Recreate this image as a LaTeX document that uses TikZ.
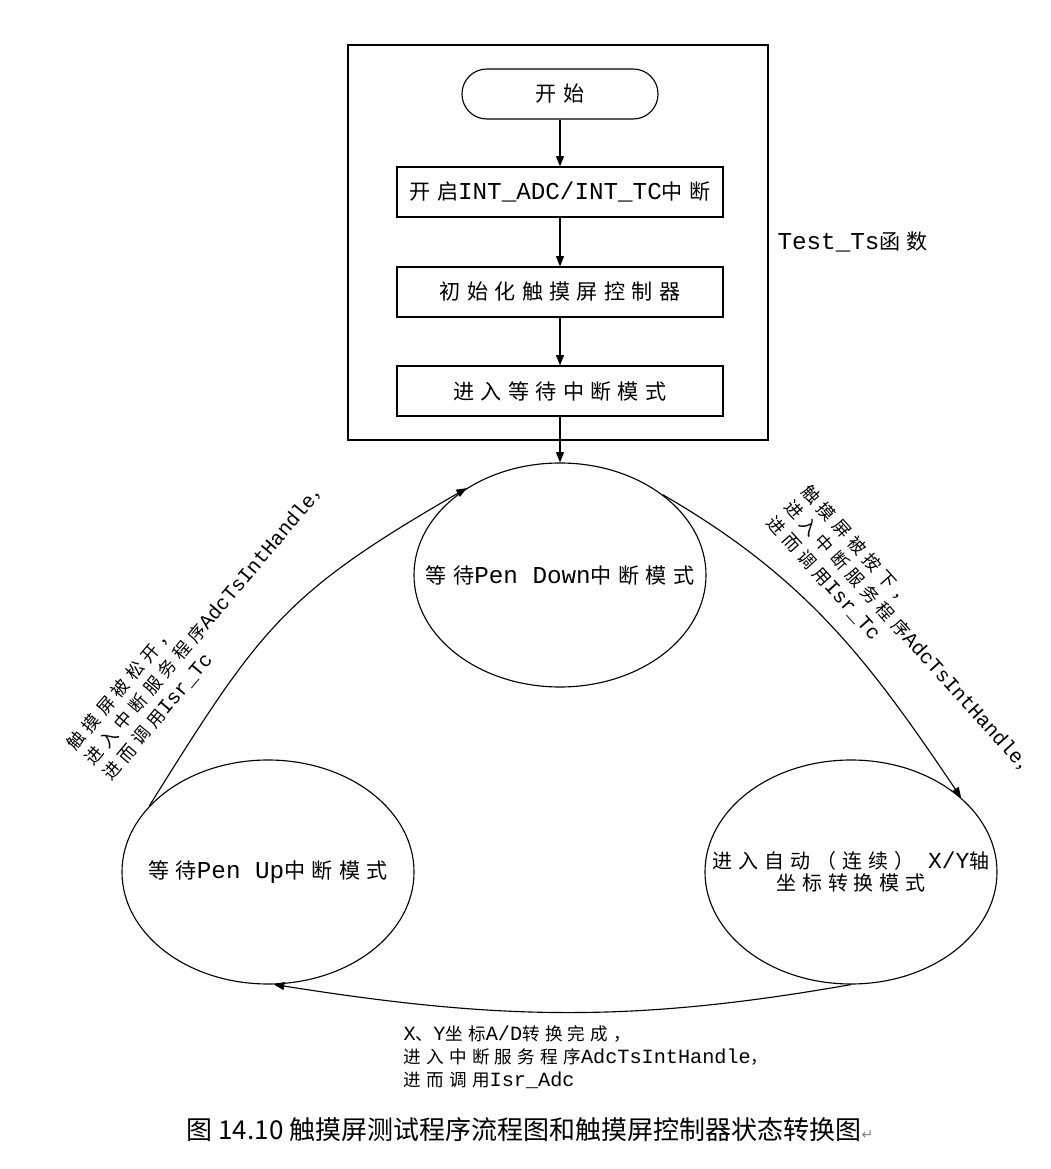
\documentclass[tikz,border=0pt]{standalone}
\usepackage{fontspec}
\setmainfont{Noto Sans CJK SC}
\newfontfamily\cjk[LetterSpace=30]{Noto Sans CJK SC}
\newfontfamily\mono[Scale=1.15]{Liberation Mono}
\newfontfamily\symfont{DejaVu Sans}
\newcommand{\lat}[1]{{\mono #1}}
\usetikzlibrary{positioning,arrows.meta,shapes.geometric}

\begin{document}
\begin{tikzpicture}[>={Triangle[length=2.6mm,width=2mm]},line width=0.8pt,
  proc/.style={draw,minimum width=8.15cm,minimum height=1.25cm,inner sep=0pt,font=\cjk\fontsize{15}{18}\selectfont},
  state/.style={draw,ellipse,minimum width=7.3cm,minimum height=5.6cm,inner sep=0pt},
  statetext/.style={align=center,inner sep=0pt,font=\cjk\fontsize{15}{16}\selectfont},
  note/.style={align=left,inner sep=0pt,font=\cjk\fontsize{12.5}{16.5}\selectfont}]
\useasboundingbox (0,0) rectangle (26.275,29.225);
% Test_Ts function
\node[draw,minimum width=10.5cm,minimum height=9.875cm,inner sep=0pt] (frame) at (13.95,23.1625) {};
\node[proc,rounded corners=0.62cm,minimum width=4.9cm] (start) at (14,26.875) {开始};
\node[proc] (irq) at (14,24.425) {开启\lat{INT\_ADC/INT\_TC}中断};
\node[proc] (init) at (14,21.925) {初始化触摸屏控制器};
\node[proc] (wait) at (14,19.45) {进入等待中断模式};
\node[anchor=west,inner sep=0pt,font=\cjk\fontsize{15}{17}\selectfont] (tsname) at (19.425,23.175) {\lat{Test\_Ts}函数};
\draw[->] (start) -- (irq);
\draw[->] (irq) -- (init);
\draw[->] (init) -- (wait);
% controller states
\node[state] (down) at (14,14.85) {};
\node[state] (up) at (6.7,7.425) {};
\node[state] (conv) at (21.275,7.425) {};
\node[statetext] (downtxt) at (down) {等待\lat{Pen Down}中断模式};
\node[statetext] (uptxt) at (up) {等待\lat{Pen Up}中断模式};
\node[statetext,font=\cjk\fontsize{14.2}{16}\selectfont] (convtxt) at (conv) {进入自动（连续）\lat{ X/Y}轴\\坐标转换模式};
\draw[->] (wait) -- (down);
\draw[->] (up.151) to[out=58,in=210,looseness=1.2] (down.137);
\draw[->] (down.38) to[out=-30,in=124] (conv.34);
\draw[->] (conv.south) to[out=190,in=-9] (up.-87);
\node[note,rotate=50] (relnote) at (5.15,13.65) {触摸屏被松开，\\进入中断服务程序\lat{AdcTsIntHandle}，\\进而调用\lat{Isr\_Tc}};
\node[note,rotate=-48] (pressnote) at (22.75,13.25) {触摸屏被按下，\\进入中断服务程序\lat{AdcTsIntHandle}，\\进而调用\lat{Isr\_Tc}};
\node[note,anchor=west] (adcnote) at (10.075,2.8) {\lat{X}、\lat{Y}坐标\lat{A/D}转换完成，\\进入中断服务程序\lat{AdcTsIntHandle}，\\进而调用\lat{Isr\_Adc}};
\node[font=\fontsize{18.5}{20}\selectfont] (caption) at (13.25,0.975) {图 14.10 触摸屏测试程序流程图和触摸屏控制器状态转换图{\symfont\color{gray}\fontsize{10}{10}\selectfont ↵}};
\end{tikzpicture}
\end{document}
